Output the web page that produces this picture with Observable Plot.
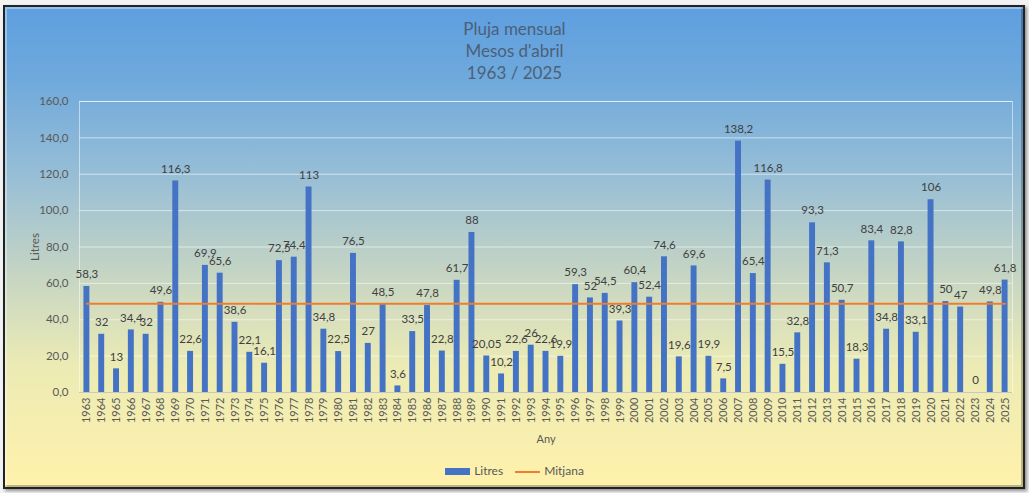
<!DOCTYPE html>
<html>
<head>
<meta charset="utf-8">
<script src="https://cdn.jsdelivr.net/npm/d3@7"></script>
<script src="https://cdn.jsdelivr.net/npm/@observablehq/plot@0.6"></script>
<style>
  html, body { margin: 0; padding: 0; }
  body { width: 1029px; height: 493px; overflow: hidden; background: #f2f2f2; font-family: Lato, "Noto Sans", sans-serif; }
  #wrap { position: relative; width: 1029px; height: 493px; }
  #panel {
    position: absolute; left: 3px; top: 5px; width: 1018px; height: 480px;
    border: 2px solid #1f2328;
    background: linear-gradient(to bottom, #5e9fe0 0%, #6fa9dc 15%, #97bed6 35%, #c4d4c4 55%, #ecebb4 75%, #fff1ab 100%);
    box-shadow: inset 2px 2px 0 rgba(255,255,255,0.35), inset -2px -2px 0 rgba(0,0,0,0.25), 2px 2px 3px rgba(0,0,0,0.4);
  }
  #title { position: absolute; left: 0; top: 18px; width: 1029px; text-align: center; color: #4b6079; font-size: 17px; line-height: 22px; }
  #chart { position: absolute; left: 0; top: 85px; }
  #legend { position: absolute; left: 0; top: 463px; width: 1029px; text-align: center; font-size: 12px; color: #595959; }
  .sw { display: inline-block; vertical-align: middle; margin-right: 4px; }
  .item { display: inline-block; margin: 0 6px; }
</style>
</head>
<body>
<div id="wrap">
  <div id="panel"></div>
  <div id="title"></div>
  <div id="chart"></div>
  <div id="legend"></div>
</div>
<script>
const titleLines = ["Pluja mensual", "Mesos d'abril", "1963 / 2025"];
const years = [1963,1964,1965,1966,1967,1968,1969,1970,1971,1972,1973,1974,1975,1976,1977,1978,1979,1980,1981,1982,1983,1984,1985,1986,1987,1988,1989,1990,1991,1992,1993,1994,1995,1996,1997,1998,1999,2000,2001,2002,2003,2004,2005,2006,2007,2008,2009,2010,2011,2012,2013,2014,2015,2016,2017,2018,2019,2020,2021,2022,2023,2024,2025];
const litres = [58.3,32,13,34.4,32,49.6,116.3,22.6,69.9,65.6,38.6,22.1,16.1,72.5,74.4,113,34.8,22.5,76.5,27,48.5,3.6,33.5,47.8,22.8,61.7,88,20.05,10.2,22.6,26,22.6,19.9,59.3,52,54.5,39.3,60.4,52.4,74.6,19.6,69.6,19.9,7.5,138.2,65.4,116.8,15.5,32.8,93.3,71.3,50.7,18.3,83.4,34.8,82.8,33.1,106,50,47,0,49.8,61.8];
const yTicks = [0,20,40,60,80,100,120,140,160];
const seriesNames = ["Litres", "Mitjana"];
const xLabel = "Any";
const yLabel = "Litres";

document.getElementById("title").innerHTML = titleLines.map(t => `<div>${t}</div>`).join("");

const data = years.map((y, i) => ({year: String(y), value: litres[i]}));
const mitjana = d3.mean(litres);
const meanData = years.map(y => ({year: String(y), value: mitjana}));
const comma = v => String(v).replace(".", ",");

const chart = Plot.plot({
  width: 1029,
  height: 370,
  marginLeft: 79,
  marginRight: 17,
  marginTop: 16,
  marginBottom: 63,
  style: { background: "transparent", fontFamily: "Lato, 'Noto Sans', sans-serif", color: "#595959" },
  x: { type: "band", domain: years.map(String), paddingInner: 0.6, paddingOuter: 0.3 },
  y: { domain: [0, 160] },
  marks: [
    Plot.gridY(yTicks, { stroke: "#ffffff", strokeOpacity: 0.55, strokeWidth: 1 }),
    Plot.frame({ stroke: "#ffffff", strokeOpacity: 0.5 }),
    Plot.ruleY([0], { stroke: "#c8c8c0", strokeWidth: 1 }),
    Plot.barY(data, { x: "year", y: "value", fill: "#4472c4" }),
    Plot.lineY(meanData, { x: "year", y: "value", stroke: "#ed7d31", strokeWidth: 2 }),
    Plot.text(data, { x: "year", y: "value", text: d => comma(d.value), dy: -12, fill: "#404040", fontSize: 11.5 }),
    Plot.axisY({ ticks: yTicks, tickSize: 0, tickPadding: 11, tickFormat: d => d.toFixed(1).replace(".", ","), fontSize: 11.5, fill: "#595959",
      label: yLabel, labelAnchor: "center", labelOffset: 49, labelArrow: "none" }),
    Plot.axisX({ tickSize: 0, tickRotate: -90, tickPadding: 5, fontSize: 11, fill: "#595959",
      label: xLabel, labelAnchor: "center", labelOffset: 50, labelArrow: "none" })
  ]
});
document.getElementById("chart").appendChild(chart);

document.getElementById("legend").innerHTML =
  `<span class="item"><span class="sw" style="width:25px;height:7px;background:#4472c4"></span>${seriesNames[0]}</span>` +
  `<span class="item"><span class="sw" style="width:25px;height:2px;background:#ed7d31"></span>${seriesNames[1]}</span>`;
</script>
</body>
</html>
